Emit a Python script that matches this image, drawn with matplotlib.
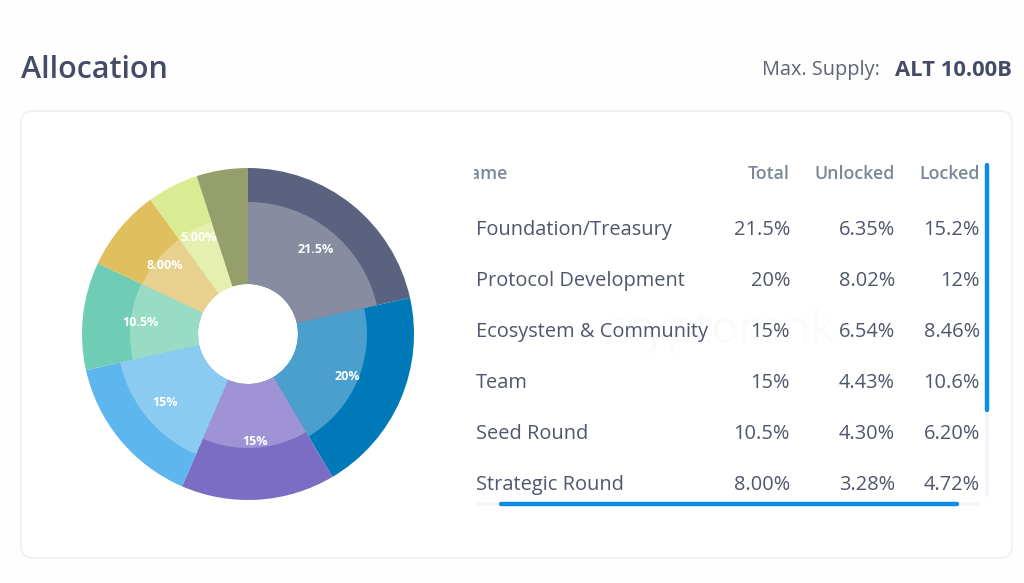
import matplotlib.pyplot as plt
from matplotlib.patches import FancyBboxPatch, Rectangle

W, H = 1024, 583

# chart data
names = ['Foundation/Treasury', 'Protocol Development', 'Ecosystem & Community',
         'Team', 'Seed Round', 'Strategic Round']
total = ['21.5%', '20%', '15%', '15%', '10.5%', '8.00%']
unlocked = ['6.35%', '8.02%', '6.54%', '4.43%', '4.30%', '3.28%']
locked = ['15.2%', '12%', '8.46%', '10.6%', '6.20%', '4.72%']

slices = [21.5, 20, 15, 15, 10.5, 8, 5, 5]
slice_labels = ['21.5%', '20%', '15%', '15%', '10.5%', '8.00%', '5.00%', '']
outer_colors = ['#5b6280', '#0079b8', '#7b6cc4', '#5db6ee', '#6ecdb4', '#e0bf5e', '#daec92', '#949f6b']
inner_colors = ['#878ca1', '#4a9fcc', '#9f93d5', '#8bcaf1', '#98dcc6', '#e8d08e', '#e5f0b0', '#949f6b']
# each inner wedge reaches its own radius in the picture
inner_reach = [132, 119, 114, 131, 118, 117, 118, 118]

plt.rcParams['font.family'] = ['Open Sans', 'DejaVu Sans']

fig = plt.figure(figsize=(W / 100, H / 100), dpi=100, facecolor='#fefefe')

# page layer in pixel coordinates, y going down
ax = fig.add_axes([0, 0, 1, 1])
ax.set_xlim(0, W)
ax.set_ylim(H, 0)
ax.axis('off')

ax.add_patch(FancyBboxPatch((33, 123), 967, 423, boxstyle='round,pad=12,rounding_size=12',
                            fc='white', ec='#eef0f3', lw=1.2))

ax.text(21, 70, 'Allocation', fontsize=22, fontweight='semibold', color='#454b66', va='center')
ax.text(880, 70, 'Max. Supply:', fontsize=14.3, color='#5d6373', va='center', ha='right')
ax.text(1012, 70, 'ALT 10.00B', fontsize=15.8, fontweight='bold', color='#454b66', va='center', ha='right')

# watermark behind the table
ax.text(720, 331, 'cryptorank', fontsize=33, color='#fafbfc', va='center', ha='center')

# header, Name is cut off by the scrolled table
clip = Rectangle((474, 150), 520, 360, transform=ax.transData)
name_head = ax.text(456, 174, 'Name', fontsize=12.8, fontweight='semibold', color='#7c8799', va='center')
name_head.set_clip_path(clip)
name_head.set_clip_on(True)
for right, head in zip([790, 895, 980], ['Total', 'Unlocked', 'Locked']):
    ax.text(right, 174, head, fontsize=12.8, fontweight='semibold', color='#7c8799', va='center', ha='right')

row_y = [230, 281, 332, 383, 434, 485]
for i, y in enumerate(row_y):
    ax.text(476, y, names[i], fontsize=14.4, color='#50566b', va='center')
    ax.text(790, y, total[i], fontsize=14.4, color='#50566b', va='center', ha='right')
    ax.text(895, y, unlocked[i], fontsize=14.4, color='#50566b', va='center', ha='right')
    ax.text(980, y, locked[i], fontsize=14.4, color='#50566b', va='center', ha='right')

# scrollbars
ax.plot([987, 987], [165, 495], color='#f3f5f9', lw=3, solid_capstyle='round')
ax.plot([479, 977], [503.5, 503.5], color='#f3f5f9', lw=3, solid_capstyle='round')
ax.plot([987, 987], [165, 410], color='#0a8ce8', lw=3.2, solid_capstyle='round')
ax.plot([501, 957], [503.5, 503.5], color='#0a8ce8', lw=3.2, solid_capstyle='round')

# double ring pie
cx, cy, r_outer, r_hole = 248, 334, 166, 50
pie_ax = fig.add_axes([(cx - r_outer) / W, 1 - (cy + r_outer) / H, 2 * r_outer / W, 2 * r_outer / H])
pie_ax.pie(slices, colors=outer_colors, startangle=90, counterclock=False, radius=1,
           wedgeprops=dict(width=1 - r_hole / r_outer, linewidth=0))
inner_wedges, _, pct_texts = pie_ax.pie(slices, colors=inner_colors, startangle=90, counterclock=False,
                                        radius=1, autopct='%.1f', pctdistance=108 / r_outer,
                                        wedgeprops=dict(width=1 - r_hole / r_outer, linewidth=0))
for wedge, reach in zip(inner_wedges, inner_reach):
    wedge.set_radius(reach / r_outer)
    wedge.set_width((reach - r_hole) / r_outer)
for t, label in zip(pct_texts, slice_labels):
    t.set_text(label)
    t.set_color('white')
    t.set_fontsize(9)
    t.set_fontweight('bold')
pie_ax.set_xlim(-1, 1)
pie_ax.set_ylim(-1, 1)
pie_ax.patch.set_alpha(0)

fig.savefig('out.png', dpi=100, facecolor=fig.get_facecolor())
